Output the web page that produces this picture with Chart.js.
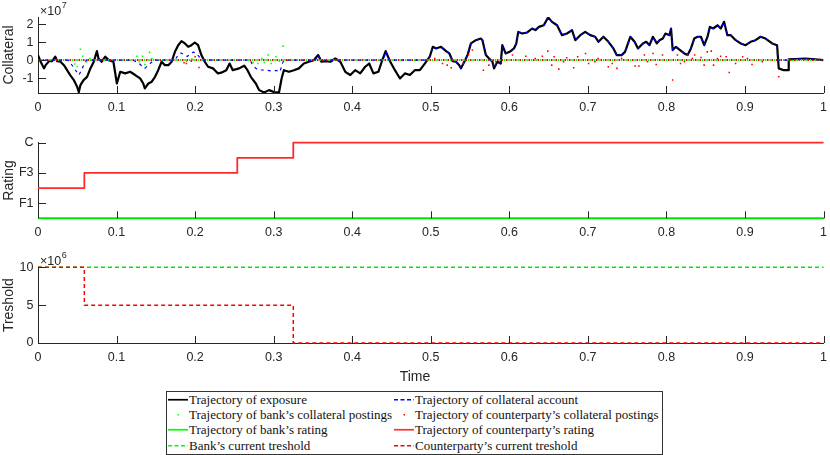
<!DOCTYPE html>
<html>
<head>
<meta charset="utf-8">
<script src="https://cdn.jsdelivr.net/npm/chart.js@4.4.1/dist/chart.umd.min.js"></script>
<style>
  body { margin: 0; width: 830px; height: 455px; overflow: hidden; background: #fff; position: relative; }
  canvas { position: absolute; left: 0; }
  #time { position: absolute; top: 368px; left: 0; width: 830px; text-align: center;
          font: 14px "Liberation Sans", Arial, sans-serif; line-height: 16px; color: #262626; }
  #legend { position: absolute; left: 166px; top: 391px; width: 495px; height: 62px;
            border: 1px solid #333; background: #fff; }
  .item { position: absolute; height: 15.5px; line-height: 15.5px; white-space: nowrap;
          font: 13px "Liberation Serif", "Times New Roman", serif; color: #111; }
  .item svg { position: absolute; left: 0; top: 3px; }
  .item span { position: absolute; left: 21px; }
</style>
</head>
<body>
<canvas id="c1" width="834" height="116" style="top:0"></canvas>
<canvas id="c2" width="834" height="132" style="top:112px"></canvas>
<canvas id="c3" width="834" height="148" style="top:240px"></canvas>
<div id="time">Time</div>
<div id="legend"></div>
<script>
// ---- data (collateral in units of 1e7, threshold in units of 1e6) ----
const timeTicks = [0, 0.1, 0.2, 0.3, 0.4, 0.5, 0.6, 0.7, 0.8, 0.9, 1];
const collateralTicks = [-1, 0, 1, 2];
const ratingTickValues = [1, 3, 5];
const ratingTickLabels = ['F1', 'F3', 'C'];
const thresholdTicks = [0, 5, 10];

const exposureTime = [
  0, 0.0034, 0.0076, 0.0097, 0.014, 0.018, 0.022, 0.0245, 0.0287, 0.033, 0.037, 0.041, 0.0456, 0.0498, 0.052,
  0.054, 0.058, 0.0625, 0.0667, 0.071, 0.075, 0.077, 0.081, 0.0857, 0.09, 0.096, 0.1004, 0.1047, 0.111, 0.1173,
  0.1237, 0.13, 0.134, 0.136, 0.1405, 0.1448, 0.149, 0.153, 0.1574, 0.1616, 0.1659, 0.1701, 0.1743, 0.1785,
  0.1827, 0.187, 0.1912, 0.1954, 0.1996, 0.2038, 0.208, 0.2123, 0.2165, 0.2228, 0.2291, 0.2333, 0.2397, 0.2439,
  0.248, 0.256, 0.2625, 0.2667, 0.2709, 0.2773, 0.2815, 0.2878, 0.2941, 0.3004, 0.3068, 0.3101, 0.313, 0.3195,
  0.3258, 0.3321, 0.3384, 0.3448, 0.3511, 0.3566, 0.3608, 0.3658, 0.3722, 0.3785, 0.3849, 0.3912, 0.3975,
  0.4038, 0.4102, 0.4165, 0.4216, 0.427, 0.4333, 0.4376, 0.4426, 0.4481, 0.4544, 0.4608, 0.4671, 0.4734,
  0.4797, 0.4861, 0.4924, 0.4987,
  0.5026, 0.5068, 0.5131, 0.5195, 0.5237, 0.5279, 0.5321, 0.5363, 0.5385, 0.5427, 0.5469, 0.5511, 0.5574,
  0.5637, 0.5658, 0.5701, 0.5743, 0.5785, 0.5806, 0.5848, 0.589, 0.5911, 0.5954, 0.6017, 0.6059, 0.6089,
  0.6114, 0.6165, 0.6228, 0.6291, 0.6333, 0.6376, 0.6439, 0.6494, 0.6544, 0.6608, 0.6671, 0.6734, 0.6798,
  0.684, 0.6903, 0.6966, 0.703, 0.7093, 0.7135, 0.7198, 0.7262, 0.7325, 0.7367, 0.743, 0.7473,
  0.754, 0.7595, 0.7638, 0.7701, 0.7743, 0.7785, 0.7828, 0.7878, 0.7912, 0.7954, 0.7988, 0.8038, 0.8059,
  0.808, 0.8122, 0.8173, 0.8228, 0.827, 0.8312, 0.8354, 0.8397, 0.8439, 0.8481, 0.8523, 0.8553, 0.8595,
  0.865, 0.8692, 0.8734, 0.8776, 0.8819, 0.8882, 0.8945, 0.9008, 0.9072, 0.9135, 0.9198, 0.9262, 0.9346,
  0.9409, 0.943, 0.9494, 0.9549, 0.9557, 0.9641, 0.9768, 0.9895, 1
];
const exposureValue = [
  0.28, -0.09, -0.46, -0.28, -0.06, -0.06, 0.19, -0.06, -0.09, -0.28, -0.56, -0.83, -1.11, -1.48, -1.78,
  -1.39, -1.11, -0.93, -0.46, -0.09, 0.5, 0.09, -0.09, 0.19, 0, -0.09, -1.3, -0.65, -0.74, -0.65,
  -0.83, -1.02, -1.3, -1.57, -1.3, -1.2, -0.93, -0.56, -0.09, -0.28, -0.28, -0.09, 0.46, 0.83,
  1.06, 0.93, 0.74, 0.83, 0.98, 0.83, 0.28, -0.09, -0.37, -0.46, -0.74, -0.7, -0.56, -0.19,
  -0.56, -0.46, -0.31, -0.56, -0.93, -1.3, -1.67, -1.8, -1.67, -1.78, -1.8, -1.02, -0.56, -0.65,
  -0.56, -0.46, -0.19, -0.09, 0, 0.28, -0.09, -0.06, -0.09, 0.09, -0.09, -0.65, -0.83,
  -0.56, -0.74, -0.37, -0.19, -0.74, -0.65, -0.09, 0.5, -0.06, -0.56, -1.02, -0.74, -0.83,
  -0.56, -0.56, -0.19, 0.19,
  0.74, 0.65, 0.74, 0.5, 0.37, -0.06, -0.09, -0.28, -0.46, -0.09, 0.28, 0.93, 1.11,
  1.2, 1.11, 0.28, 0.09, -0.09, -0.46, -0.09, -0.19, 0.83, 0.37, 0.5, 0.65, 0.93,
  1.57, 1.48, 1.54, 1.76, 1.67, 1.85, 1.94, 2.38, 2.13, 1.94, 1.39, 1.48, 1.67,
  1.11, 1.39, 1.57, 1.39, 1.3, 1.02, 1.3, 1.02, 0.65, 0.28, 0.28, 0.46,
  1.3, 1.02, 0.65, 0.93, 1.02, 0.83, 1.3, 0.93, 1.11, 1.2, 1.48, 1.39, 1.76,
  0.56, 0.74, 0.56, 0.37, 0.28, 0.65, 1.2, 1.3, 1.3, 0.83, 1.3, 1.85, 1.76,
  1.94, 1.76, 2.13, 1.39, 1.39, 1.11, 0.93, 0.83, 1.02, 1.11, 1.3, 1.2, 0.93,
  0.83, -0.46, -0.56, -0.56, 0.04, 0.06, 0.09, 0.04, 0
];

// collateral account before t = 0.5 (afterwards it follows the exposure)
const collateralTime = [
  0, 0.038, 0.042, 0.046, 0.05, 0.052, 0.055, 0.058, 0.062, 0.121, 0.125, 0.129, 0.133, 0.136, 0.14, 0.145,
  0.148, 0.174, 0.178, 0.182, 0.186, 0.19, 0.194, 0.198, 0.202, 0.206, 0.209, 0.27, 0.273, 0.277, 0.282,
  0.29, 0.297, 0.304, 0.308, 0.311, 0.313, 0.353, 0.3566, 0.3608, 0.44, 0.4426, 0.447, 0.492, 0.4987
];
const collateralValue = [
  0, 0, -0.2, -0.45, -0.7, -0.83, -0.6, -0.3, 0, 0, -0.1, -0.2, -0.35, -0.46, -0.3, -0.1,
  0, 0, 0.25, 0.4, 0.3, 0.2, 0.35, 0.45, 0.35, 0.15, 0, 0, -0.25, -0.45, -0.55,
  -0.55, -0.6, -0.58, -0.65, -0.2, 0, 0, 0.28, 0, 0, 0.5, 0, 0, 0.19
];
const collateralDipTime = [0.9415, 0.955];
const collateralDipValue = [0, 0];

// non-zero collateral postings
const bankPostTime = [0.047, 0.05, 0.054, 0.057, 0.062, 0.066, 0.126, 0.129, 0.133, 0.136, 0.142, 0.145,
  0.189, 0.196, 0.274, 0.28, 0.285, 0.288, 0.293, 0.297, 0.303, 0.307, 0.312];
const bankPostValue = [-0.22, -0.35, 0.61, 0.22, -0.09, 0.09, 0.22, -0.09, 0.22, -0.24, 0.43, 0.09,
  -0.06, 0.06, -0.13, -0.19, 0.09, -0.13, 0.28, -0.19, 0.19, -0.06, 0.78];
const cptyPostTime = [0.186, 0.189, 0.195, 0.2, 0.205,
  0.505, 0.515, 0.521, 0.526, 0.541, 0.548, 0.553, 0.567, 0.574, 0.583, 0.604, 0.621, 0.633, 0.642, 0.649,
  0.654, 0.657, 0.663, 0.669, 0.673, 0.682, 0.687, 0.697, 0.701, 0.709, 0.713, 0.726, 0.731, 0.737, 0.743,
  0.76, 0.765, 0.772, 0.776, 0.783, 0.787, 0.795, 0.808, 0.814, 0.818, 0.823, 0.827, 0.833, 0.836, 0.844,
  0.848, 0.852, 0.857, 0.86, 0.865, 0.869, 0.876, 0.88, 0.888, 0.897, 0.903, 0.909, 0.922, 0.943];
const cptyPostValue = [-0.15, -0.19, -0.06, 0.19, -0.41,
  0.09, -0.19, -0.28, -0.43, -0.19, 0.31, 0.56, -0.56, -0.28, -0.09, 0.28, 0.22, 0.09, 0.22, 0.5,
  -0.28, 0.19, -0.5, -0.09, 0.13, -0.43, 0.19, 0.37, -0.19, -0.09, 0.09, -0.37, -0.19, -0.46, 0.09,
  -0.33, -0.33, 0.28, -0.09, 0.37, -0.24, 0.28, -1.11, 0.28, -0.19, -0.09, 0.28, 0.09, 0.28, 0.15,
  -0.28, 0.46, 0.5, -0.28, 0.09, 0.22, 0.19, -0.69, -0.19, 0.19, 0.09, -0.24, -0.09, -0.93];
// postings of size zero at every other step
const zeroPostTime = [0, 1];
const zeroPostValue = [0, 0];

// ratings (0 = bank's rating level, F1..C = 1..5)
const bankRatingTime = [0, 1];
const bankRatingValue = [0, 0];
const cptyRatingTime = [0, 0.059, 0.2537, 0.325, 1];
const cptyRatingValue = [2, 3, 4, 5, 5];

// thresholds
const bankThresholdTime = [0, 1];
const bankThresholdValue = [10, 10];
const cptyThresholdTime = [0, 0.059, 0.325, 1];
const cptyThresholdValue = [10, 5, 0, 0];

// ---- helpers ----
const pts = (t, v) => t.map((x, i) => ({ x: x, y: v[i] }));
const AXIS = '#262626';
const FONT = '"Liberation Sans", Arial, sans-serif';
Chart.defaults.font.family = FONT;
Chart.defaults.font.size = 12.5;
Chart.defaults.color = AXIS;

const inwardTicks = {
  id: 'inwardTicks',
  afterDraw(chart, args, opts) {
    const { ctx, chartArea: a, scales: { x, y } } = chart;
    ctx.save();
    ctx.strokeStyle = AXIS;
    ctx.lineWidth = 1;
    ctx.beginPath();
    x.ticks.forEach(t => {
      const px = Math.round(x.getPixelForValue(t.value)) + 0.5;
      ctx.moveTo(px, a.bottom); ctx.lineTo(px, a.bottom - 7);
    });
    y.ticks.forEach(t => {
      const py = Math.round(y.getPixelForValue(t.value)) + 0.5;
      ctx.moveTo(a.left, py); ctx.lineTo(a.left + 8, py);
    });
    ctx.stroke();
    if (opts.exponent) {
      ctx.fillStyle = AXIS;
      ctx.textBaseline = 'alphabetic';
      ctx.font = '12.5px ' + FONT;
      ctx.fillText('\u00d710', a.left + 2, a.top - 2.5);
      const w = ctx.measureText('\u00d710').width;
      ctx.font = '9px ' + FONT;
      ctx.fillText(opts.exponent, a.left + 2 + w + 0.5, a.top - 9.5);
    }
    ctx.restore();
  }
};

function xScale(h) {
  return {
    type: 'linear', min: 0, max: 1,
    grid: { display: false, drawTicks: false },
    border: { color: AXIS, width: 1 },
    ticks: { padding: 7, maxRotation: 0, autoSkip: false, callback: v => String(v) },
    afterBuildTicks: s => { s.ticks = timeTicks.map(v => ({ value: v })); },
    afterFit: s => { s.height = h; }
  };
}
function yScale(min, max, ticks, title, cb) {
  return {
    min: min, max: max,
    grid: { display: false, drawTicks: false },
    border: { color: AXIS, width: 1 },
    ticks: { padding: 4.5, autoSkip: false, callback: cb || (v => String(v)) },
    title: { display: true, text: title, font: { size: 14 }, padding: { top: 0.5, bottom: 0 } },
    afterBuildTicks: s => { s.ticks = ticks.map(v => ({ value: v })); },
    afterFit: s => { s.width = 38; }
  };
}
function baseOptions(padTop, xh, y, exponent) {
  return {
    responsive: false, animation: false,
    layout: { padding: { top: padTop, right: 6, left: 0, bottom: 0 } },
    plugins: { legend: { display: false }, tooltip: { enabled: false }, inwardTicks: { exponent: exponent } },
    elements: { point: { radius: 0 }, line: { tension: 0, borderJoinStyle: 'round' } },
    scales: { x: xScale(xh), y: y }
  };
}

// ---- chart 1: collateral ----
const collateralPts = pts(collateralTime, collateralValue)
  .concat(pts(exposureTime, exposureValue).filter(p => p.x >= 0.5 && !(p.x > 0.9415 && p.x < 0.9556)))
  .concat(pts(collateralDipTime, collateralDipValue))
  .sort((a, b) => a.x - b.x);

new Chart(document.getElementById('c1'), {
  type: 'line',
  data: {
    datasets: [
      { data: pts(cptyPostTime, cptyPostValue), showLine: false, pointRadius: 1.1, pointStyle: 'rect',
        pointBackgroundColor: '#ff0000', pointBorderWidth: 0 },
      { data: pts(bankPostTime, bankPostValue), showLine: false, pointRadius: 1.1, pointStyle: 'rect',
        pointBackgroundColor: '#00ff00', pointBorderWidth: 0 },
      { data: collateralPts, borderColor: '#0000ff', borderWidth: 1.2, borderDash: [3, 4] },
      { data: pts(zeroPostTime, zeroPostValue), borderColor: '#ff0000', borderWidth: 2, borderDash: [1.5, 3] },
      { data: pts(zeroPostTime, zeroPostValue), borderColor: '#00ff00', borderWidth: 2, borderDash: [1.5, 3],
        borderDashOffset: 2.2 },
      { data: pts(exposureTime, exposureValue), borderColor: '#000000', borderWidth: 2.2 }
    ]
  },
  options: baseOptions(17, 23, yScale(-1.83, 2.4, collateralTicks, 'Collateral'), '7'),
  plugins: [inwardTicks]
});

// ---- chart 2: rating ----
new Chart(document.getElementById('c2'), {
  type: 'line',
  data: {
    datasets: [
      { data: pts(cptyRatingTime, cptyRatingValue), borderColor: '#ff2a2a', borderWidth: 1.8, stepped: 'before', clip: false },
      { data: pts(bankRatingTime, bankRatingValue), borderColor: '#00e600', borderWidth: 2, clip: false }
    ]
  },
  options: baseOptions(30.7, 25.7, yScale(0, 5, ratingTickValues, 'Rating',
    v => ratingTickLabels[ratingTickValues.indexOf(v)])),
  plugins: [inwardTicks]
});

// ---- chart 3: threshold ----
new Chart(document.getElementById('c3'), {
  type: 'line',
  data: {
    datasets: [
      { data: pts(cptyThresholdTime, cptyThresholdValue), borderColor: '#ff0000', borderWidth: 1.5,
        borderDash: [4, 3], stepped: 'before', clip: false },
      { data: pts(bankThresholdTime, bankThresholdValue), borderColor: '#00e600', borderWidth: 1.5,
        borderDash: [4, 3], clip: false }
    ]
  },
  options: baseOptions(27.3, 45, yScale(0, 10, thresholdTicks, 'Treshold'), '6'),
  plugins: [inwardTicks]
});

// ---- legend ----
const legendItems = [
  { text: 'Trajectory of exposure', color: '#000', kind: 'solid' },
  { text: 'Trajectory of collateral account', color: '#0000ff', kind: 'dash' },
  { text: 'Trajectory of bank\u2019s collateral postings', color: '#00ff00', kind: 'dot' },
  { text: 'Trajectory of counterparty\u2019s collateral postings', color: '#ff0000', kind: 'dot' },
  { text: 'Trajectory of bank\u2019s rating', color: '#00ff00', kind: 'solid' },
  { text: 'Trajectory of counterparty\u2019s rating', color: '#ff3030', kind: 'solid' },
  { text: 'Bank\u2019s current treshold', color: '#00ff00', kind: 'dash' },
  { text: 'Counterparty\u2019s current treshold', color: '#ff0000', kind: 'dash' }
];
const legend = document.getElementById('legend');
legendItems.forEach((it, i) => {
  const col = i % 2, row = Math.floor(i / 2);
  const d = document.createElement('div');
  d.className = 'item';
  d.style.left = (col ? 227 : 1) + 'px';
  d.style.top = (row * 15.45 - 0.5) + 'px';
  let mark;
  if (it.kind === 'dot') {
    mark = '<rect x="9.5" y="4" width="1.5" height="1.5" fill="' + it.color + '"/>';
  } else {
    mark = '<line x1="0" y1="4.75" x2="20" y2="4.75" stroke="' + it.color + '" stroke-width="1.7"' +
      (it.kind === 'dash' ? ' stroke-dasharray="4 2.5"' : '') + '/>';
  }
  d.innerHTML = '<svg width="20" height="10">' + mark + '</svg><span>' + it.text + '</span>';
  legend.appendChild(d);
});
</script>
</body>
</html>
